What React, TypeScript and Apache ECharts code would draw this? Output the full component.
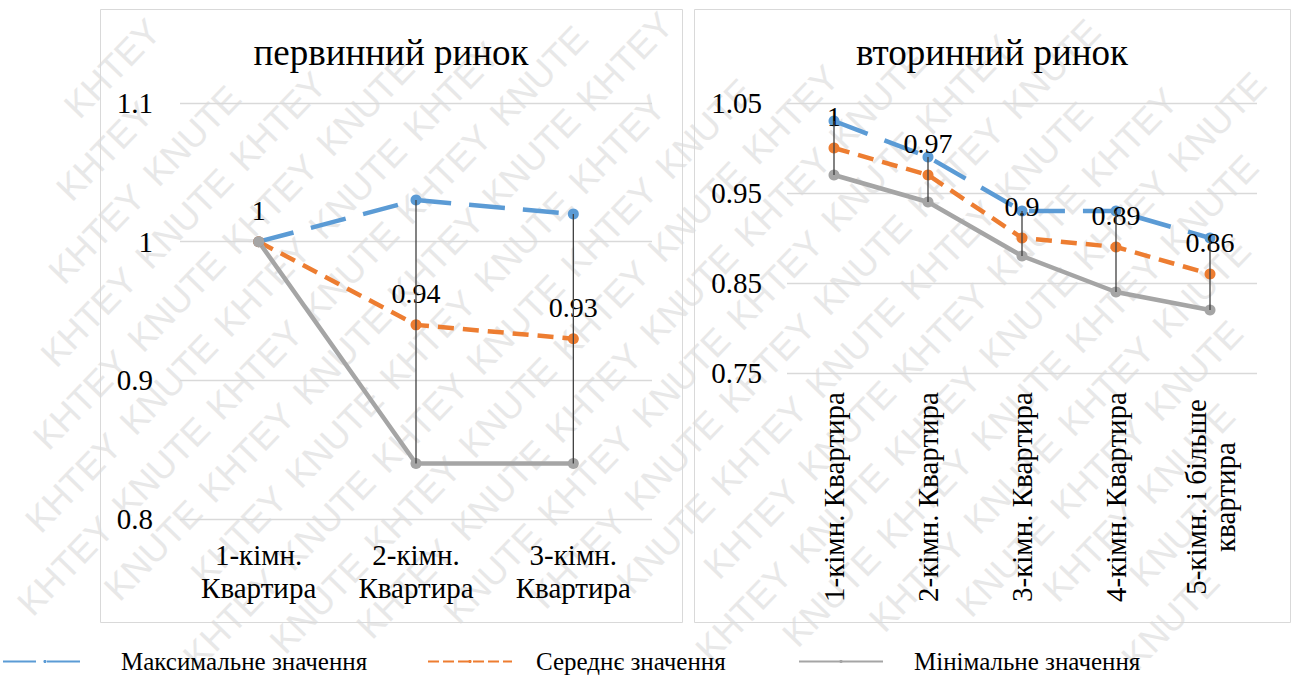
import React, { useEffect, useRef } from "react";
import * as echarts from "echarts";

const primaryCategories = ["1-кімн.\nКвартира", "2-кімн.\nКвартира", "3-кімн.\nКвартира"];
const primaryMax = [1, 1.03, 1.02];
const primaryAvg = [1, 0.94, 0.93];
const primaryMin = [1, 0.84, 0.84];
const primaryTicks = [0.8, 0.9, 1, 1.1];

const secondaryCategories = [
  "1-кімн. Квартира",
  "2-кімн. Квартира",
  "3-кімн. Квартира",
  "4-кімн. Квартира",
  "5-кімн. і більше\nквартира",
];
const secondaryMax = [1.03, 0.99, 0.93, 0.93, 0.9];
const secondaryAvg = [1.0, 0.97, 0.9, 0.89, 0.86];
const secondaryMin = [0.97, 0.94, 0.88, 0.84, 0.82];
const secondaryTicks = [0.75, 0.85, 0.95, 1.05];

const seriesNames = ["Максимальне значення", "Середнє значення", "Мінімальне значення"];
const panelTitles = ["первинний ринок", "вторинний ринок"];
const watermarkWords = ["KNUTE", "KHTEY"];

const FONT = "Liberation Serif";
const BLUE = "#5B9BD5";
const ORANGE = "#ED7D31";
const GREY = "#A5A5A5";
const W = 1293;
const H = 677;

function tickFormatter(ticks: number[]) {
  return (v: number) => {
    const t = ticks.find((x) => Math.abs(x - v) < 1e-6);
    return t === undefined ? "" : String(t);
  };
}

function lineSeries(name: string, data: number[], idx: number, color: string, dash: any, width: number, withLabel: boolean) {
  return {
    name,
    type: "line",
    xAxisIndex: idx,
    yAxisIndex: idx,
    data,
    symbol: "circle",
    symbolSize: 11,
    itemStyle: { color },
    lineStyle: { color, width, type: dash, cap: "butt" },
    label: withLabel
      ? { show: true, position: "top", distance: 12, fontFamily: FONT, fontSize: 28, color: "#000" }
      : { show: false },
    z: 2,
  };
}

function dropLines(maxArr: number[], minArr: number[], idx: number) {
  return {
    type: "custom",
    xAxisIndex: idx,
    yAxisIndex: idx,
    data: maxArr.map((v, i) => [i, v, minArr[i]]),
    encode: { x: 0, y: [1, 2] },
    silent: true,
    z: 5,
    renderItem: (params: any, api: any) => {
      const top = api.coord([api.value(0), api.value(1)]);
      const bot = api.coord([api.value(0), api.value(2)]);
      return {
        type: "line",
        shape: { x1: top[0], y1: top[1], x2: bot[0], y2: bot[1] },
        style: { stroke: "#404040", lineWidth: 1.3 },
      };
    },
  };
}

// decorative background watermark: only whole words that fit inside the page
function watermark() {
  const theta = (46 * Math.PI) / 180;
  const c = Math.cos(theta);
  const s = Math.sin(theta);
  const fontSize = 36;
  const wordW = 3.39 * fontSize;
  const wordH = 0.75 * fontSize;
  const pitch = wordW + 14;
  const rowGap = 52;
  const cx = W / 2;
  const cy = H / 2;
  const out: any[] = [];
  for (let k = -16; k <= 16; k++) {
    for (let j = -10; j <= 10; j++) {
      const u = j * pitch + ((k * 71) % (2 * pitch));
      const v = k * rowGap;
      const px = cx + u * c + v * s;
      const py = cy - u * s + v * c;
      const corners = [
        [0, -wordH / 2],
        [wordW, -wordH / 2],
        [0, wordH / 2],
        [wordW, wordH / 2],
      ].map(([a, b]) => [px + a * c + b * s, py - a * s + b * c]);
      const inside = corners.every(([x, y]) => x >= 2 && x <= W - 2 && y >= 2 && y <= H - 2);
      if (!inside) continue;
      const word = watermarkWords[(((j + k) % 2) + 2) % 2];
      out.push({
        type: "text",
        x: px,
        y: py,
        rotation: theta,
        silent: true,
        style: {
          text: word,
          fill: "#e8e8e8",
          font: fontSize + "px Liberation Sans",
          verticalAlign: "middle",
          align: "left",
        },
      });
    }
  }
  return out;
}

function legendItem(i: number, left: number, pad: number, dash: any) {
  return {
    data: [seriesNames[i]],
    left,
    top: 649,
    padding: 0,
    itemWidth: 84,
    itemHeight: 4,
    selectedMode: false,
    lineStyle: { type: dash },
    textStyle: { fontFamily: FONT, fontSize: 25, color: "#000", padding: [0, 0, 0, pad] },
  };
}

function titleText(text: string, cx: number) {
  return {
    type: "text",
    x: cx,
    y: 52,
    silent: true,
    style: {
      text,
      font: "normal 37px " + FONT,
      fill: "#000",
      align: "center",
      verticalAlign: "middle",
    },
  };
}

export default function App() {
  const ref = useRef<HTMLDivElement>(null);
  const wmRef = useRef<HTMLDivElement>(null);
  useEffect(() => {
    if (!ref.current || !wmRef.current) return;
    const wm = echarts.init(wmRef.current, undefined, { renderer: "svg" });
    wm.setOption({ animation: false, graphic: watermark() });

    const chart = echarts.init(ref.current, undefined, { renderer: "svg" });
    const axisLabelBase = { fontFamily: FONT, fontSize: 29, color: "#000" };
    const option: any = {
      animation: false,
      textStyle: { fontFamily: FONT },
      grid: [
        { left: 180, top: 103, width: 472, height: 416 },
        { left: 787, top: 103, width: 470, height: 270 },
      ],
      xAxis: [
        {
          type: "category",
          gridIndex: 0,
          data: primaryCategories,
          axisLine: { show: false },
          axisTick: { show: false },
          axisLabel: { ...axisLabelBase, lineHeight: 33, margin: 19, interval: 0 },
        },
        {
          type: "category",
          gridIndex: 1,
          data: secondaryCategories,
          axisLine: { show: false },
          axisTick: { show: false },
          axisLabel: {
            ...axisLabelBase,
            rotate: 90,
            align: "center",
            verticalAlign: "middle",
            lineHeight: 29,
            margin: 124,
            interval: 0,
          },
        },
      ],
      yAxis: [
        {
          type: "value",
          gridIndex: 0,
          min: 0.8,
          max: 1.1,
          interval: 0.1,
          axisLine: { show: false },
          axisTick: { show: false },
          axisLabel: { ...axisLabelBase, margin: 27, formatter: tickFormatter(primaryTicks) },
          splitLine: { lineStyle: { color: "#D9D9D9", width: 1.3 } },
        },
        {
          type: "value",
          gridIndex: 1,
          min: 0.75,
          max: 1.05,
          interval: 0.05,
          axisLine: { show: false },
          axisTick: { show: false },
          axisLabel: { ...axisLabelBase, margin: 25, formatter: tickFormatter(secondaryTicks) },
          splitLine: { lineStyle: { color: ["#D9D9D9", "rgba(0,0,0,0)"], width: 1.3 } },
        },
      ],
      legend: [
        legendItem(0, 2, 29, [33, 11]),
        legendItem(1, 427, 19, [11, 4]),
        legendItem(2, 798, 26, "solid"),
      ],
      graphic: [
        titleText(panelTitles[0], 391),
        titleText(panelTitles[1], 992),
        {
          type: "rect",
          silent: true,
          z: -5,
          shape: { x: 100.5, y: 9.5, width: 582, height: 613 },
          style: { fill: "none", stroke: "#D9D9D9", lineWidth: 1 },
        },
        {
          type: "rect",
          silent: true,
          z: -5,
          shape: { x: 694.5, y: 9.5, width: 596, height: 613 },
          style: { fill: "none", stroke: "#D9D9D9", lineWidth: 1 },
        },
      ],
      series: [
        lineSeries(seriesNames[0], primaryMax, 0, BLUE, [36, 18], 4.5, false),
        lineSeries(seriesNames[1], primaryAvg, 0, ORANGE, [16, 9], 4.5, true),
        lineSeries(seriesNames[2], primaryMin, 0, GREY, "solid", 4.5, false),
        dropLines(primaryMax, primaryMin, 0),
        lineSeries(seriesNames[0], secondaryMax, 1, BLUE, [36, 18], 4.5, false),
        lineSeries(seriesNames[1], secondaryAvg, 1, ORANGE, [16, 9], 4.5, true),
        lineSeries(seriesNames[2], secondaryMin, 1, GREY, "solid", 4.5, false),
        dropLines(secondaryMax, secondaryMin, 1),
      ],
    };
    chart.setOption(option);
    return () => {
      chart.dispose();
      wm.dispose();
    };
  }, []);
  return (
    <div style={{ position: "fixed", left: 0, top: 0, width: W, height: H, background: "#fff" }}>
      <style>{`.main-chart svg text { font-family: "Liberation Serif", Tinos, serif !important; }`}</style>
      <div ref={wmRef} style={{ position: "absolute", left: 0, top: 0, width: W, height: H }} />
      <div ref={ref} className="main-chart" style={{ position: "absolute", left: 0, top: 0, width: W, height: H }} />
    </div>
  );
}
